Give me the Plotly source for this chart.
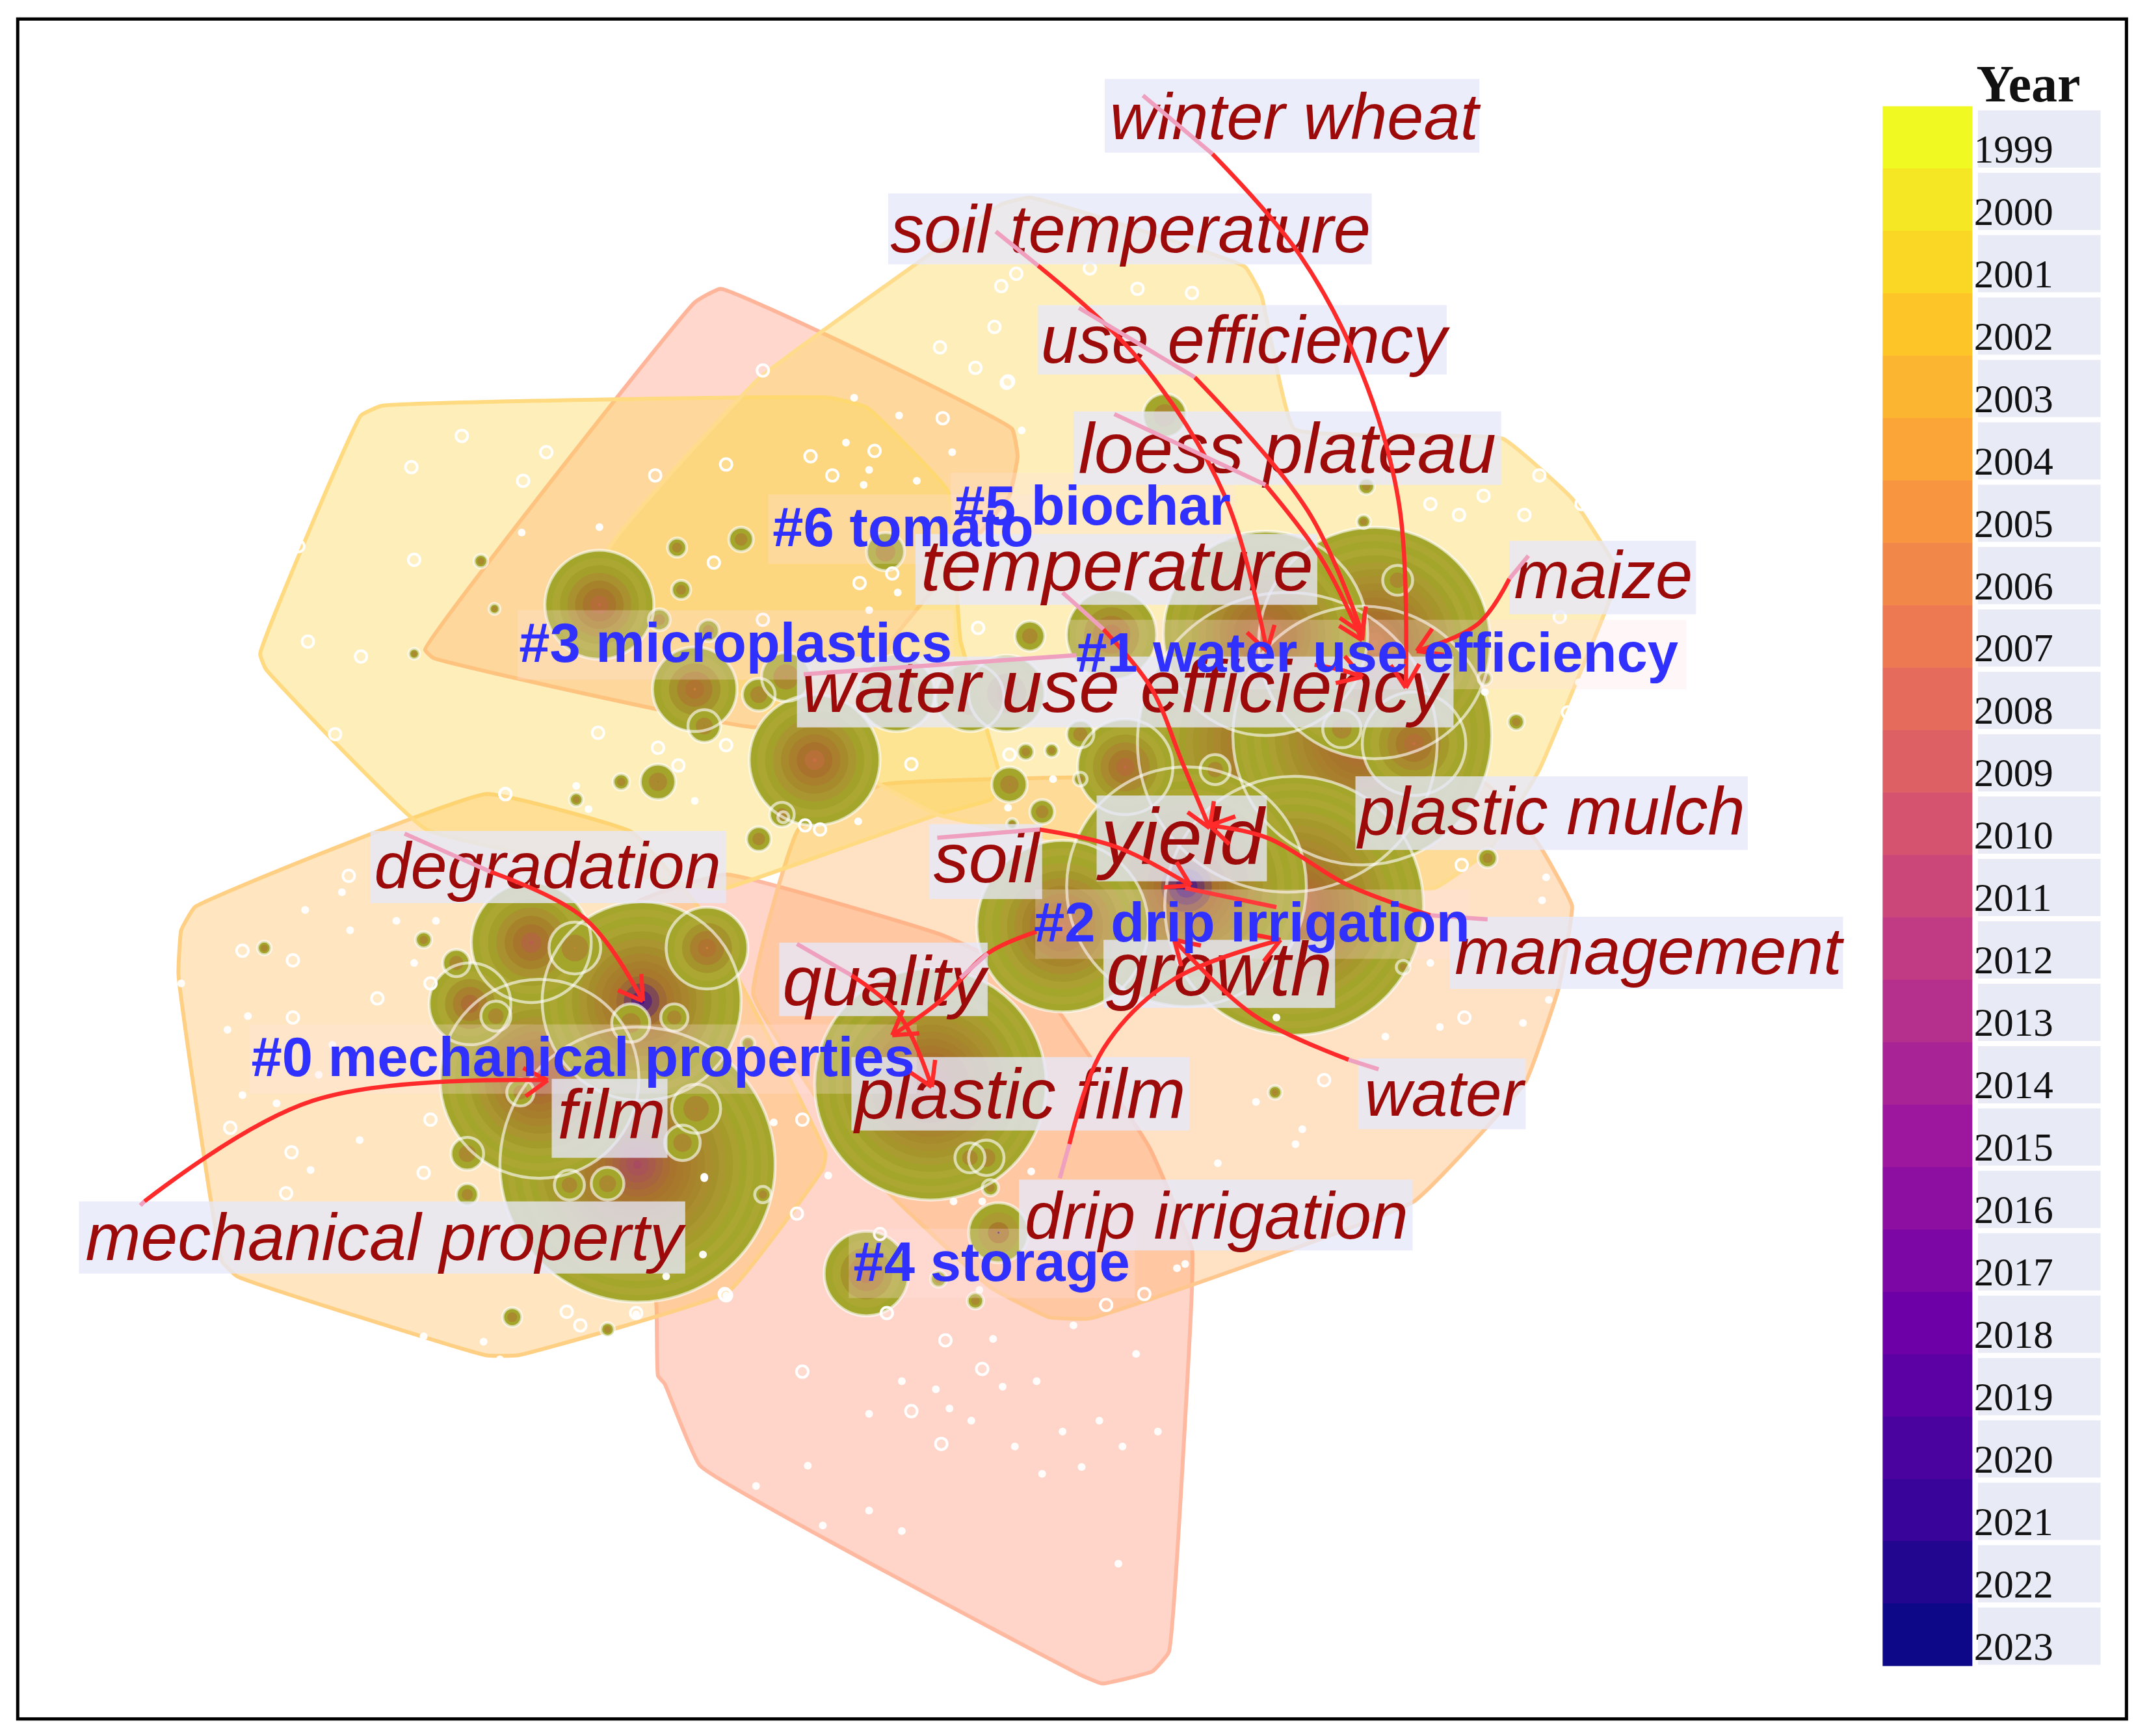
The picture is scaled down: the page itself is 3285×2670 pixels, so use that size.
import math
import plotly.graph_objects as go
from plotly.colors import sample_colorscale

# Constants (coordinates below are in a 1568 x 1274.5 picture space)
W = 3285
H = 2670
S = W / 1568
PAGE_MARGIN = 8  # the page body keeps 8px around the plot
RED_TEXT = "#9C0A0A"
BLUE_TEXT = "#3030FF"

# Year scale
years = list(range(1999, 2024))

# Cluster hulls
hull_a_x = [280, 609, 636, 696, 705, 735, 727, 688, 533, 520, 313, 195, 191, 265]
hull_a_y = [298, 292, 299, 361, 470, 575, 587, 598, 652, 652, 609, 491, 480, 305]
hull_b_x = [312, 510, 529, 743, 747, 741, 655, 640, 556, 318]
hull_b_y = [477, 222, 212, 315, 335, 364, 470, 510, 534, 483]
hull_c_x = [756, 914, 926, 950, 1103, 1154, 1188, 1185, 1130, 1093, 1053, 960, 688, 646, 470, 446, 557, 668, 735]
hull_c_y = [145, 196, 217, 315, 322, 366, 420, 432, 565, 624, 652, 650, 598, 576, 460, 405, 278, 197, 150]
hull_d_x = [648, 586, 553, 639, 727, 770, 800, 1038, 1120, 1144, 1154, 1129, 1090]
hull_d_y = [576, 609, 730, 862, 945, 967, 968, 882, 794, 726, 665, 619, 575]
hull_e_x = [357, 143, 133, 131, 163, 174, 357, 380, 535, 604, 606, 515, 464]
hull_e_y = [583, 666, 683, 715, 926, 937, 995, 995, 948, 858, 847, 669, 611]
hull_f_x = [464, 533, 693, 760, 844, 875, 875, 858, 846, 809, 794, 514, 488, 483, 482]
hull_f_y = [665, 642, 687, 720, 843, 917, 945, 1213, 1227, 1236, 1230, 1076, 1016, 1010, 961]

# Nodes, largest first so that small ones stay visible
node_x = [945, 1000, 950, 871, 468, 1009, 396, 683, 929, 780, 471, 598, 390, 440, 826, 816, 510, 1038, 519, 345,
          658, 712, 739, 636, 733, 422, 577, 511, 855, 650, 892, 557, 517, 501, 463, 446, 418, 495, 364, 335, 343,
          382, 724, 712, 985, 1026, 756, 793, 741, 765, 753, 484, 520, 483, 456, 500, 497, 353, 363, 304, 557, 343,
          376, 446, 194, 311, 689, 727, 716, 560, 1003, 1001, 1092, 1113, 1090, 936, 1030, 549, 575, 423, 544, 574,
          793, 772, 743]
node_y = [545, 540, 665, 651, 855, 472, 792, 796, 465, 680, 735, 558, 692, 444, 563, 466, 506, 546, 696, 737,
          509, 512, 509, 935, 905, 696, 497, 814, 305, 405, 565, 510, 533, 839, 751, 869, 870, 747, 746, 707, 847,
          802, 850, 850, 535, 426, 467, 539, 576, 596, 552, 455, 463, 574, 574, 433, 402, 412, 447, 480, 616, 877,
          967, 976, 696, 690, 939, 872, 955, 877, 357, 383, 630, 530, 498, 802, 710, 766, 600, 587, 396, 598,
          572, 551, 605]
node_r = [110, 95, 95, 88, 101, 85, 73, 85, 75, 63, 73, 48, 44, 40, 35, 33, 31, 38, 30, 30,
          28, 25, 28, 31, 22, 19, 18, 18, 16, 14, 11, 12, 12, 13, 14, 12, 11, 10, 11, 10, 12,
          10, 13, 11, 14, 11, 11, 10, 13, 9, 6, 8, 8, 13, 6, 7, 7, 5, 4, 4, 9, 8,
          7, 5, 5, 6, 6, 6, 6, 6, 6, 5, 7, 6, 5, 5, 5, 5, 4, 5, 9, 9,
          5, 5, 4]
node_year = [2008, 2009, 2009, 2021, 2014, 2007, 2012, 2010, 2008, 2008, 2021, 2008, 2011, 2009, 2009, 2008, 2006, 2008, 2006, 2010,
             2006, 2006, 2006, 2009, 2021, 2005, 2008, 2008, 2006, 2006, 2009, 2008, 2010, 2008, 2009, 2005, 2005, 2006, 2005, 2009, 2009,
             2009, 2005, 2005, 2010, 2008, 2010, 2010, 2010, 2008, 2006, 2010, 2008, 2010, 2005, 2006, 2008, 2005, 2005, 2005, 2010, 2009,
             2005, 2005, 2005, 2005, 2008, 2005, 2008, 2005, 2005, 2005, 2005, 2008, 2005, 2016, 2005, 2005, 2005, 2005, 2008, 2010,
             2005, 2005, 2005]

# Small hollow nodes
ring_x = [339, 401, 302, 384, 481, 533, 595, 642, 611, 560, 716, 739, 746, 692, 524, 304, 226, 265, 219, 655,
          631, 560, 246, 439, 483, 533, 669, 718, 371, 498, 591, 602, 741, 589, 669, 691, 694, 721, 585, 532,
          467, 646, 651, 840, 812, 1075, 972, 1073, 1130, 1089, 1050, 1071, 1119, 1161, 1145, 1151, 371, 256, 178, 215,
          214, 277, 215, 316, 169, 210, 311, 316, 589, 533, 426, 416, 735, 800, 835, 875, 730, 690, 740, 1000]
ring_y = [320, 332, 343, 353, 349, 341, 335, 331, 349, 272, 270, 281, 201, 307, 413, 411, 471, 482, 401, 421,
          428, 455, 539, 538, 549, 547, 561, 461, 583, 562, 606, 609, 554, 1007, 1036, 1060, 984, 1005, 891, 950,
          964, 906, 964, 950, 958, 747, 793, 635, 349, 364, 370, 378, 378, 370, 453, 523, 583, 643, 698, 705,
          846, 733, 747, 722, 828, 876, 861, 822, 822, 951, 973, 963, 210, 197, 212, 215, 240, 255, 280, 270]

# Small filled white nodes
dot_x = [621, 638, 634, 673, 699, 660, 627, 750, 440, 383, 659, 638, 423, 432, 510, 630, 773, 740, 729, 662,
         687, 736, 761, 834, 788, 638, 697, 713, 745, 780, 807, 824, 850, 765, 794, 593, 555, 638, 604, 662,
         821, 516, 517, 608, 700, 757, 894, 721, 719, 864, 870, 1135, 1132, 1137, 1118, 1057, 1017, 1050, 922, 956,
         951, 937, 251, 224, 291, 320, 257, 304, 133, 182, 167, 244, 234, 178, 203, 264, 228, 568, 517, 489,
         533, 311, 355, 367, 467, 1159, 1090]
dot_y = [325, 345, 356, 353, 332, 305, 292, 316, 387, 391, 435, 448, 577, 594, 588, 603, 572, 593, 983, 1014,
         1020, 1018, 1014, 994, 973, 1038, 1034, 1043, 1062, 1051, 1043, 1062, 1051, 1082, 1077, 1076, 1091, 1109, 1120, 1124,
         1148, 921, 864, 863, 882, 860, 854, 882, 947, 931, 928, 644, 661, 734, 751, 754, 761, 707, 809, 829,
         840, 747, 655, 668, 676, 676, 683, 707, 722, 746, 756, 767, 789, 804, 810, 837, 859, 824, 865, 937,
         951, 981, 985, 998, 965, 501, 508]

# Keyword labels: text, centre, font size, box
kw_text = ["winter wheat", "soil temperature", "use efficiency", "loess plateau", "maize", "temperature",
           "water use efficiency", "plastic mulch", "yield", "soil", "management", "growth", "quality",
           "plastic film", "water", "film", "degradation", "drip irrigation", "mechanical property"]
kw_x = [950, 830, 913, 945, 1177, 820, 825, 1139, 868, 724, 1210, 895, 649, 749, 1060, 449, 402, 893, 282]
kw_y = [90, 173, 254, 334, 427, 420, 509, 600, 620, 635, 703, 717, 725, 808, 807, 823, 640, 897, 913]
kw_size = [101, 103, 103, 109, 103, 112, 113, 103, 122, 108, 102, 116, 108, 109, 100, 107, 101, 102, 102]
kw_x0 = [811, 652, 762, 788, 1108, 672, 585, 995, 805, 682, 1064, 810, 572, 625, 997, 405, 272, 748, 58]
kw_x1 = [1086, 1007, 1062, 1102, 1245, 967, 1067, 1283, 930, 765, 1353, 980, 725, 873, 1120, 490, 533, 1037, 503]
kw_y0 = [58, 142, 224, 302, 397, 392, 482, 570, 584, 605, 673, 690, 692, 776, 777, 792, 610, 866, 882]
kw_y1 = [112, 194, 275, 356, 451, 444, 534, 624, 647, 660, 726, 740, 746, 830, 829, 850, 663, 918, 935]

# Cluster labels
cl_text = ["#0 mechanical properties", "#1 water use efficiency", "#2 drip irrigation", "#3 microplastics",
           "#4 storage", "#5 biochar", "#6 tomato"]
cl_x = [428, 1011, 919, 540, 728, 802, 663]
cl_y = [780, 483, 681, 476, 930, 375, 391]
cl_x0 = [183, 785, 760, 380, 623, 698, 564]
cl_x1 = [673, 1238, 1079, 700, 833, 907, 762]
cl_y0 = [752, 455, 653, 448, 902, 347, 363]
cl_y1 = [803, 506, 704, 499, 953, 398, 414]

# Citation burst arrows: pink start, then red curve to the head
arrow_pink = [
    ([839, 890], [70, 113]), ([731, 762], [170, 195]), ([792, 877], [226, 277]), ([818, 929], [304, 356]),
    ([1122, 1108], [408, 425]), ([780, 810], [435, 462]), ([590, 790], [495, 481]),
    ([1092, 1050], [675, 672]), ([688, 763], [615, 609]), ([1012, 990], [785, 778]),
    ([585, 625], [693, 716]), ([705, 725], [718, 700]), ([297, 360], [612, 640]),
    ([778, 785], [865, 840]), ([103, 106], [885, 882]),
]
arrow_red_x = [
    [890, 954, 999, 1027, 1032], [762, 836, 899, 930], [877, 960, 1000], [929, 970, 1000],
    [1108, 1085, 1040], [810, 845, 868, 888], [965, 985, 1000],
    [1050, 990, 930, 888], [763, 820, 874], [990, 920, 862],
    [625, 660, 684], [761, 725, 690, 655], [360, 430, 472],
    [785, 810, 860, 940], [106, 230, 402],
]
arrow_red_y = [
    [113, 187, 272, 370, 505], [195, 264, 364, 478], [277, 375, 465], [356, 410, 470],
    [425, 458, 478], [462, 505, 560, 608], [488, 492, 497],
    [672, 650, 615, 606], [609, 622, 650], [778, 745, 690],
    [716, 745, 798], [684, 700, 735, 760], [640, 675, 735],
    [840, 770, 720, 690], [882, 808, 793],
]
extra_x = [870, 937]
extra_y = [652, 666]


def mix(a, b, t):
    return tuple(a[i] + (b[i] - a[i]) * t for i in range(3))


def toRgb(c):
    return "rgb(%d,%d,%d)" % (round(c[0]), round(c[1]), round(c[2]))


def yearColor(year):
    c = sample_colorscale("Plasma_r", [(year - 1999) / 24], colortype="tuple")[0]
    return tuple(v * 255 for v in c)


OLIVE = (163, 166, 42)
OLIVE2 = (171, 167, 50)
BROWN = (168, 114, 44)


def ringColor(year, t, i):
    base = OLIVE if i % 2 == 0 else OLIVE2
    if t < 0.2:
        return base
    if t < 0.75:
        return mix(base, BROWN, (t - 0.2) / 0.55)
    return mix(BROWN, yearColor(year), (t - 0.75) / 0.25 * (0.95 if year > 2015 else 0.5))


fig = go.Figure()

# Hulls, the yellow ones last since they sit on top in the overlaps
hulls = [
    (hull_b_x, hull_b_y, "rgba(255,150,120,0.38)", "#FFB59A"),
    (hull_f_x, hull_f_y, "rgba(255,150,120,0.40)", "#FFB9A0"),
    (hull_e_x, hull_e_y, "rgba(255,190,90,0.38)", "#FFD083"),
    (hull_d_x, hull_d_y, "rgba(255,175,100,0.38)", "#FFC68E"),
    (hull_a_x, hull_a_y, "rgba(253,214,90,0.42)", "#FFDA80"),
    (hull_c_x, hull_c_y, "rgba(253,214,90,0.42)", "#FFDC8C"),
]
for hx, hy, fill, edge in hulls:
    fig.add_trace(go.Scatter(
        x=hx + hx[:1], y=hy + hy[:1], mode="lines", fill="toself", fillcolor=fill,
        line=dict(color=edge, width=6, shape="spline", smoothing=0.3), hoverinfo="skip",
    ))

# Nodes as stacks of year rings
ring_xs, ring_ys, ring_sizes, ring_colors = [], [], [], []
for x, y, r, yr in zip(node_x, node_y, node_r, node_year):
    n = max(3, int(r / 5))
    for i in range(n):
        t = i / (n - 1)
        ring_xs.append(x)
        ring_ys.append(y)
        ring_sizes.append(2 * r * S * (1 - t * 0.97))
        ring_colors.append(toRgb(ringColor(yr, t, i)))
fig.add_trace(go.Scatter(
    x=ring_xs, y=ring_ys, mode="markers", hoverinfo="skip",
    marker=dict(size=ring_sizes, color=ring_colors, opacity=1, line=dict(width=0)),
))
# white node outlines on top of everything in the network
fig.add_trace(go.Scatter(
    x=node_x, y=node_y, mode="markers", hoverinfo="skip",
    marker=dict(size=[2 * r * S for r in node_r], color="rgba(0,0,0,0)",
                line=dict(color="rgba(255,255,255,0.88)", width=4.5)),
))
fig.add_trace(go.Scatter(
    x=ring_x, y=ring_y, mode="markers", hoverinfo="skip",
    marker=dict(size=18, color="rgba(255,255,255,0.12)", line=dict(color="white", width=4)),
))
fig.add_trace(go.Scatter(
    x=dot_x, y=dot_y, mode="markers", hoverinfo="skip",
    marker=dict(size=12, color="rgba(255,255,255,0.95)", line=dict(width=0)),
))

# Label boxes
for x0, x1, y0, y1 in zip(cl_x0, cl_x1, cl_y0, cl_y1):
    fig.add_trace(go.Scatter(
        x=[x0, x1, x1, x0, x0], y=[y0, y0, y1, y1, y0], mode="lines", fill="toself",
        fillcolor="rgba(255,225,225,0.28)", line=dict(width=0), hoverinfo="skip",
    ))
for x0, x1, y0, y1 in zip(kw_x0, kw_x1, kw_y0, kw_y1):
    fig.add_trace(go.Scatter(
        x=[x0, x1, x1, x0, x0], y=[y0, y0, y1, y1, y0], mode="lines", fill="toself",
        fillcolor="rgba(230,232,250,0.78)", line=dict(width=0), hoverinfo="skip",
    ))

fig.add_trace(go.Scatter(
    x=kw_x, y=kw_y, text=kw_text, mode="text", hoverinfo="skip",
    textfont=dict(family="Liberation Sans", size=kw_size, color=RED_TEXT, style="italic"),
))

# Arrows
for (px_, py_), rx, ry in zip(arrow_pink, arrow_red_x, arrow_red_y):
    fig.add_trace(go.Scatter(
        x=rx, y=ry, mode="lines", line=dict(color="#FF2A2A", width=6.5, shape="spline"), hoverinfo="skip",
    ))
    fig.add_trace(go.Scatter(
        x=px_, y=py_, mode="lines", line=dict(color="#EFA0BE", width=6.5), hoverinfo="skip",
    ))
    # open arrow head from the last segment's direction
    ang = math.atan2(ry[-1] - ry[-2], rx[-1] - rx[-2])
    hx, hy = [], []
    for d in (0.55, -0.55):
        hx += [rx[-1] - 20 * math.cos(ang + d), rx[-1], None]
        hy += [ry[-1] - 20 * math.sin(ang + d), ry[-1], None]
    fig.add_trace(go.Scatter(
        x=hx, y=hy, mode="lines", line=dict(color="#FF2A2A", width=6.5), hoverinfo="skip",
    ))

fig.add_trace(go.Scatter(
    x=extra_x, y=extra_y, mode="lines", line=dict(color="#FF3A3A", width=6.5), hoverinfo="skip",
))

fig.add_trace(go.Scatter(
    x=cl_x, y=cl_y, text=cl_text, mode="text", hoverinfo="skip",
    textfont=dict(family="Liberation Sans", size=85, color=BLUE_TEXT, weight="bold"),
))

# Year scale
fig.add_trace(go.Heatmap(
    z=[[y] for y in years], x0=1415, dx=66, y0=100.9, dy=45.8,
    colorscale="Plasma_r", zmin=1999, zmax=2023, showscale=False, hoverinfo="skip",
))
for i, y in enumerate(years):
    top = 78 + i * 45.8
    fig.add_trace(go.Scatter(
        x=[1452, 1542, 1542, 1452, 1452], y=[top + 3, top + 3, top + 45, top + 45, top + 3],
        mode="lines", fill="toself", fillcolor="#E8EBF6", line=dict(width=0), hoverinfo="skip",
    ))
fig.add_trace(go.Scatter(
    x=[1449] * len(years), y=[78 + i * 45.8 + 34 for i in range(len(years))],
    text=[str(y) for y in years], mode="text", textposition="middle right", hoverinfo="skip",
    textfont=dict(family="Liberation Serif", size=61, color="#111111"),
))
fig.add_trace(go.Scatter(
    x=[1489], y=[65], text=["Year"], mode="text", hoverinfo="skip",
    textfont=dict(family="Liberation Serif", size=80, color="#111111", weight="bold"),
))

fig.update_layout(
    width=W - PAGE_MARGIN,
    height=H - PAGE_MARGIN,
    margin=dict(l=0, r=0, t=0, b=0),
    paper_bgcolor="white",
    plot_bgcolor="white",
    showlegend=False,
)
fig.update_xaxes(range=[PAGE_MARGIN / S, 1568], visible=False, fixedrange=True)
fig.update_yaxes(range=[1274.5, PAGE_MARGIN / S], visible=False, fixedrange=True)
# picture frame
fig.add_shape(type="rect", x0=13, x1=1561, y0=14, y1=1262, line=dict(color="black", width=5), layer="above")

fig.write_html("out.html")
